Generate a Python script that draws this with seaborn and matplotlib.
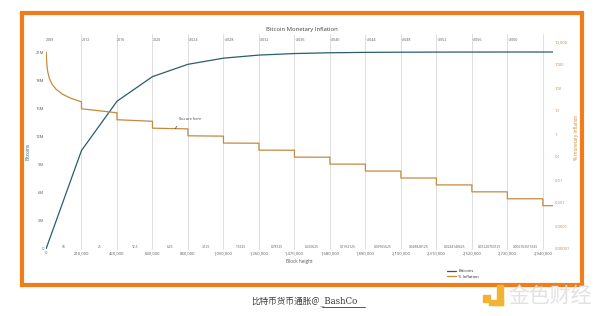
import matplotlib
matplotlib.use("Agg")
import matplotlib.pyplot as plt
import seaborn as sns
import pandas as pd
from matplotlib.patches import Rectangle
from matplotlib.lines import Line2D
import matplotlib.transforms as mtransforms

# ---------------- data ----------------
halving_blocks = [0, 210000, 420000, 630000, 840000, 1050000, 1260000, 1470000,
                  1680000, 1890000, 2100000, 2310000, 2520000, 2730000, 2940000, 3000000]
supply_btc = [0, 10.5e6, 15.75e6, 18.375e6, 19.6875e6, 20.34375e6, 20.671875e6, 20.8359e6,
              20.918e6, 20.959e6, 20.9795e6, 20.98975e6, 20.99487e6, 20.99744e6, 20.99872e6, 20.99875e6]

era0_blocks = [1440, 3000, 6000, 10000, 20000, 35000, 60000, 100000, 150000, 210000]
era0_infl = [3650, 1752, 876, 526, 263, 150, 87.6, 52.6, 35.0, 25.0]

era_start_blocks = [210000, 420000, 630000, 840000, 1050000, 1260000, 1470000, 1680000,
                    1890000, 2100000, 2310000, 2520000, 2730000, 2940000]
era_end_blocks = [420000, 630000, 840000, 1050000, 1260000, 1470000, 1680000, 1890000,
                  2100000, 2310000, 2520000, 2730000, 2940000, 3000000]
era_infl_start = [12.51, 4.171, 1.788, 0.8343, 0.4037, 0.1986, 0.09854, 0.04908,
                  0.02449, 0.012233, 0.006113, 0.003056, 0.001528, 0.000764]
era_infl_end = [8.343, 3.576, 1.669, 0.8074, 0.3973, 0.1971, 0.09815, 0.04898,
                0.02447, 0.012227, 0.006112, 0.003056, 0.001528, 0.000764]

year_labels = ["2009", "2012", "2016", "2020", "~2024", "~2028", "~2032", "~2036",
               "~2040", "~2044", "~2048", "~2052", "~2056", "~2060"]
reward_labels = ["50", "25", "12.5", "6.25", "3.125", "1.5625", "0.78125", "0.390625",
                 "0.1953125", "0.09765625", "0.048828125", "0.0244140625",
                 "0.01220703125", "0.006103515625"]
x_tick_blocks = [0, 210000, 420000, 630000, 840000, 1050000, 1260000, 1470000, 1680000,
                 1890000, 2100000, 2310000, 2520000, 2730000, 2940000]
x_tick_labels = ["0", "210,000", "420,000", "630,000", "840,000", "1,050,000", "1,260,000",
                 "1,470,000", "1,680,000", "1,890,000", "2,100,000", "2,310,000",
                 "2,520,000", "2,730,000", "2,940,000"]
left_ticks = [0, 3e6, 6e6, 9e6, 12e6, 15e6, 18e6, 21e6]
left_labels = ["0", "3M", "6M", "9M", "12M", "15M", "18M", "21M"]
right_ticks = [1e-5, 1e-4, 1e-3, 1e-2, 1e-1, 1, 10, 100, 1000, 10000]
right_labels = ["0.00001", "0.0001", "0.001", "0.01", "0.1", "1", "10", "100", "1000", "10,000"]

# ---------------- style ----------------
sns.set_theme(style="white")
plt.rcParams["font.family"] = ["Open Sans", "DejaVu Sans"]

BLUE = "#2b5d6e"
ORANGE = "#c48a3f"
FRAME = "#f07d1a"
GRID = "#d9d9d9"
TXT = "#595959"

W, H = 600, 316
fig = plt.figure(figsize=(6, 3.16), dpi=100)
fig.patch.set_facecolor("white")

L, R, T, B = 46, 553, 42, 249
ax = fig.add_axes([L / W, 1 - B / H, (R - L) / W, (B - T) / H])
ax2 = ax.twinx()
for a in (ax, ax2):
    a.set_facecolor("none")
    for s in a.spines.values():
        s.set_visible(False)

# build data frames
supply_df = pd.DataFrame({"block": halving_blocks, "supply": supply_btc})
inf_blocks, inf_vals = list(era0_blocks), list(era0_infl)
for s, e, v0, v1 in zip(era_start_blocks, era_end_blocks, era_infl_start, era_infl_end):
    inf_blocks += [s, e]
    inf_vals += [v0, v1]
infl_df = pd.DataFrame({"block": inf_blocks, "infl": inf_vals})

# gridlines
for b in x_tick_blocks[1:]:
    ax.axvline(b, ymin=0, ymax=1 + 8 / (B - T), clip_on=False, color=GRID, lw=0.6, zorder=0)

sns.lineplot(data=supply_df, x="block", y="supply", ax=ax, color=BLUE, lw=0.9,
             sort=False, estimator=None, legend=False)
sns.lineplot(data=infl_df, x="block", y="infl", ax=ax2, color=ORANGE, lw=0.9,
             sort=False, estimator=None, legend=False)

ax.set_xlim(0, 3000000)
ax.set_ylim(0, 21e6 * (B - T) / (B - 52))
ax2.set_yscale("log")
ax2.set_ylim(1e-5, 1e4)

ax.set_xticks(x_tick_blocks)
ax.set_xticklabels(x_tick_labels)
ax.set_yticks(left_ticks)
ax.set_yticklabels(left_labels)
ax2.set_yticks(right_ticks)
ax2.set_yticklabels(right_labels)
ax2.minorticks_off()

ax.tick_params(axis="x", length=0, labelsize=3, pad=1.2, colors=TXT)
ax.tick_params(axis="y", length=0, labelsize=3, pad=1.5, colors=TXT)
ax2.tick_params(axis="y", length=0, labelsize=3, pad=1.5, colors=ORANGE)

ax.set_xlabel("Block height", fontsize=3.3, color=TXT, labelpad=3)
ax.set_ylabel("Bitcoins", fontsize=3.3, color=BLUE)
ax.yaxis.set_label_coords(-16 / (R - L), 0.47)
ax2.set_ylabel("% monetary inflation", fontsize=3.3, color=ORANGE)
ax2.yaxis.set_label_coords(1 + 21 / (R - L), 0.5 + 8 / (B - T))

# title
fig.text(302 / W, 1 - 30 / H, "Bitcoin Monetary Inflation", fontsize=4.2, color="#404040",
         ha="center", va="center")

# year labels above gridlines
trans_top = mtransforms.blended_transform_factory(ax.transData, ax.transAxes)
for b, lab in zip(x_tick_blocks, year_labels):
    ax.text(b, 1 + 2 / (B - T), lab, transform=trans_top, fontsize=2.6, color=TXT,
            ha="left", va="center")

# block reward labels at era midpoints
for i, lab in enumerate(reward_labels):
    mid = (x_tick_blocks[i] + x_tick_blocks[i] + 210000) / 2
    ax.text(mid, 2.5 / (B - T), lab, transform=trans_top, fontsize=2.3, color=TXT,
            ha="center", va="center")

# annotation
ax2.annotate("You are here", xy=(765000, 1.72), xytext=(850000, 4.6),
             fontsize=2.8, color="#404040", ha="center", va="center",
             arrowprops=dict(arrowstyle="-", color="#404040", lw=0.5, relpos=(0.1, 0.0)))

# legend
handles = [Line2D([], [], color=BLUE, lw=0.9), Line2D([], [], color=ORANGE, lw=0.9)]
fig.legend(handles, ["Bitcoins", "% Inflation"], loc="upper left",
           bbox_to_anchor=(445 / W, 1 - 267 / H), frameon=False, fontsize=3,
           handlelength=2.2, borderpad=0, labelspacing=0.35, handletextpad=0.5)

# orange frame
fig.patches.append(Rectangle((22 / W, 1 - 285 / H), (581.5 - 22) / W, (285 - 13) / H,
                             transform=fig.transFigure, fill=False, edgecolor=FRAME,
                             lw=3.0, zorder=5))

# caption
cjk = ["Noto Sans CJK SC", "DejaVu Sans"]
fig.text(320 / W, 1 - 301 / H, "比特币货币通胀@", fontsize=6.2, color="#3a3a3a",
         ha="right", va="center", family=cjk)
fig.text(320 / W, 1 - 301 / H, "_BashCo", fontsize=6.2, color="#3a3a3a",
         ha="left", va="center", family=["DejaVu Serif"])
fig.add_artist(Line2D([322 / W, 365 / W], [1 - 307 / H, 1 - 307 / H],
                      transform=fig.transFigure, color="#3a3a3a", lw=0.6))

# watermark
fig.patches.append(Rectangle((483 / W, 1 - 302 / H), 7 / W, 7 / H, transform=fig.transFigure,
                             color="#f2b233", zorder=6))
fig.patches.append(Rectangle((497 / W, 1 - 305 / H), 6 / W, 20 / H, transform=fig.transFigure,
                             color="#f2b233", zorder=6))
fig.patches.append(Rectangle((489 / W, 1 - 305 / H), 14 / W, 5 / H, transform=fig.transFigure,
                             color="#f2b233", zorder=6))
fig.text(550 / W, 1 - 296 / H, "金色财经", fontsize=15, color="#e2e2e2", ha="center",
         va="center", family=cjk, zorder=6)

fig.savefig("out.png", dpi=100, facecolor="white")
